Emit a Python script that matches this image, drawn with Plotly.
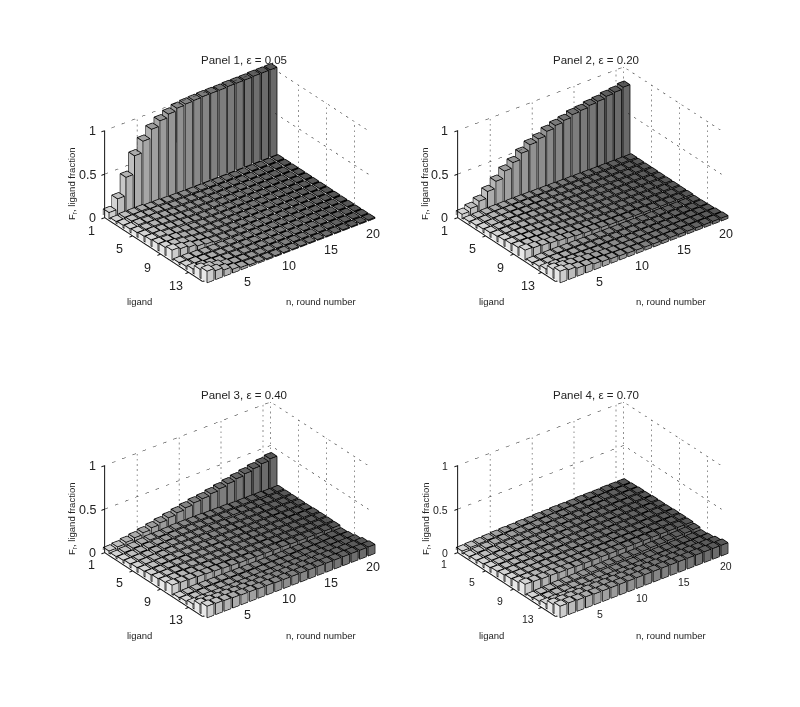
import plotly.graph_objects as go

rounds = list(range(1, 21))
ligands = list(range(1, 16))
round_tick_labels = [5, 10, 15, 20]
round_tick_pos = [4.25, 9.2, 14.15, 19.1]
ligand_ticks = [1, 5, 9, 13]
z_ticks = [0, 0.5, 1]
titles = ["Panel 1, \u03b5 = 0.05", "Panel 2, \u03b5 = 0.20", "Panel 3, \u03b5 = 0.40", "Panel 4, \u03b5 = 0.70"]

panel1 = [
 [.07,.19,.40,.61,.74,.84,.90,.94,.97,.98,.985,.99,.99,.99,.995,.995,.995,1,1,1],
 [.02,.03,.03,.03,.02,.02,.015,.012,.01,.008,.007,.006,.006,.006,.005,.005,.005,.005,.005,.005],
 [.03,.04,.04,.03,.03,.02,.014,.012,.01,.008,.007,.006,.006,.006,.005,.005,.005,.005,.005,.005],
 [.04,.05,.04,.04,.03,.02,.013,.012,.01,.008,.007,.006,.006,.005,.005,.005,.005,.005,.005,.005],
 [.05,.05,.05,.04,.03,.02,.012,.011,.01,.008,.007,.006,.006,.005,.005,.005,.005,.005,.005,.005],
 [.06,.06,.05,.04,.03,.02,.012,.01,.009,.007,.006,.006,.005,.005,.005,.005,.005,.005,.005,.005],
 [.07,.07,.05,.04,.025,.015,.012,.01,.008,.007,.006,.005,.005,.005,.005,.005,.005,.005,.005,.005],
 [.08,.07,.06,.04,.025,.015,.012,.01,.008,.007,.006,.005,.005,.005,.005,.005,.005,.005,.005,.005],
 [.09,.08,.06,.04,.025,.015,.012,.009,.007,.006,.005,.005,.005,.005,.005,.005,.005,.005,.005,.005],
 [.11,.09,.07,.045,.03,.016,.012,.009,.007,.006,.005,.005,.005,.005,.005,.005,.005,.005,.005,.005],
 [.02,.02,.015,.012,.01,.008,.007,.006,.005,.005,.005,.005,.005,.005,.005,.005,.005,.005,.005,.005],
 [.03,.03,.02,.015,.012,.009,.007,.006,.005,.005,.005,.005,.005,.005,.005,.005,.005,.005,.005,.005],
 [.05,.04,.03,.02,.014,.01,.008,.007,.006,.005,.005,.005,.005,.005,.005,.005,.005,.005,.005,.005],
 [.10,.08,.06,.035,.02,.014,.01,.008,.007,.006,.006,.006,.006,.006,.006,.006,.006,.006,.006,.006],
 [.13,.10,.07,.04,.025,.016,.012,.01,.008,.007,.007,.007,.007,.007,.007,.007,.007,.007,.007,.008],
]
panel2 = [
 [.05,.08,.125,.20,.28,.36,.42,.49,.55,.58,.63,.66,.68,.71,.72,.74,.75,.77,.78,.80],
 [.02,.025,.03,.03,.03,.03,.03,.028,.026,.025,.024,.022,.021,.02,.019,.018,.018,.017,.017,.016],
 [.03,.035,.04,.04,.04,.035,.035,.03,.03,.027,.025,.023,.022,.02,.019,.018,.017,.017,.016,.016],
 [.04,.045,.05,.05,.045,.04,.04,.035,.03,.028,.025,.023,.021,.02,.019,.018,.017,.016,.016,.015],
 [.05,.055,.055,.055,.05,.045,.04,.035,.03,.028,.025,.023,.021,.02,.018,.017,.016,.016,.015,.015],
 [.06,.06,.06,.055,.05,.045,.04,.035,.03,.027,.024,.022,.02,.019,.018,.017,.016,.015,.015,.014],
 [.07,.07,.065,.06,.05,.045,.04,.035,.03,.027,.024,.021,.02,.018,.017,.016,.015,.015,.014,.014],
 [.08,.08,.07,.06,.055,.045,.04,.035,.03,.026,.023,.021,.019,.018,.017,.016,.015,.014,.014,.014],
 [.09,.085,.075,.065,.055,.05,.04,.035,.03,.026,.023,.021,.019,.018,.016,.015,.015,.014,.014,.013],
 [.11,.10,.09,.08,.07,.06,.05,.045,.04,.035,.03,.027,.024,.022,.02,.018,.017,.016,.015,.015],
 [.02,.02,.02,.02,.018,.016,.015,.013,.012,.011,.01,.01,.01,.01,.01,.01,.01,.01,.01,.01],
 [.03,.03,.03,.025,.022,.02,.017,.015,.014,.013,.012,.012,.012,.012,.012,.012,.012,.012,.012,.012],
 [.05,.05,.04,.035,.03,.026,.022,.02,.018,.017,.016,.016,.016,.016,.016,.016,.016,.016,.016,.016],
 [.10,.09,.08,.07,.06,.05,.04,.035,.03,.028,.026,.025,.024,.024,.024,.024,.024,.024,.024,.024],
 [.13,.11,.09,.08,.065,.055,.05,.045,.04,.036,.034,.033,.032,.032,.03,.03,.03,.03,.03,.03],
]
panel3 = [
 [.03,.04,.055,.07,.09,.11,.13,.15,.17,.19,.21,.22,.24,.26,.28,.30,.32,.34,.36,.38],
 [.02,.03,.04,.05,.06,.06,.065,.07,.07,.07,.07,.065,.065,.065,.06,.06,.06,.06,.055,.055],
 [.03,.035,.045,.055,.06,.065,.07,.07,.07,.07,.07,.065,.065,.065,.06,.06,.06,.055,.055,.055],
 [.04,.045,.05,.06,.065,.07,.07,.07,.07,.07,.065,.065,.06,.06,.06,.06,.055,.055,.055,.055],
 [.05,.055,.06,.065,.07,.07,.07,.07,.07,.065,.065,.065,.06,.06,.06,.06,.055,.055,.055,.055],
 [.06,.065,.07,.07,.07,.07,.07,.07,.065,.065,.065,.065,.06,.06,.06,.06,.06,.055,.055,.055],
 [.07,.07,.075,.075,.075,.07,.07,.07,.07,.065,.065,.065,.06,.06,.06,.06,.06,.06,.06,.06],
 [.08,.08,.08,.075,.075,.07,.07,.07,.07,.065,.065,.065,.06,.06,.06,.06,.06,.06,.06,.06],
 [.09,.09,.085,.08,.075,.075,.07,.07,.07,.065,.065,.065,.065,.06,.06,.06,.06,.06,.06,.06],
 [.11,.105,.10,.095,.09,.085,.08,.075,.07,.07,.065,.065,.065,.065,.06,.06,.06,.06,.06,.06],
 [.02,.025,.03,.03,.03,.03,.03,.03,.03,.03,.03,.03,.03,.035,.035,.035,.035,.04,.04,.04],
 [.03,.03,.035,.035,.035,.035,.035,.035,.035,.04,.04,.04,.04,.04,.045,.045,.045,.05,.05,.05],
 [.05,.05,.05,.05,.05,.05,.05,.05,.05,.05,.055,.055,.055,.055,.06,.06,.06,.06,.065,.065],
 [.10,.095,.09,.09,.085,.085,.08,.08,.08,.08,.08,.08,.08,.08,.085,.085,.085,.085,.085,.085],
 [.13,.125,.12,.115,.11,.11,.105,.105,.10,.10,.10,.10,.10,.10,.10,.10,.10,.10,.10,.10],
]
panel4 = [
 [.03,.035,.04,.045,.05,.055,.055,.06,.06,.065,.065,.07,.07,.07,.075,.075,.075,.08,.08,.08],
 [.02,.03,.04,.05,.055,.06,.065,.065,.07,.07,.075,.075,.08,.08,.08,.08,.085,.085,.085,.085],
 [.03,.035,.045,.05,.055,.06,.065,.07,.07,.075,.075,.08,.08,.08,.085,.085,.085,.085,.09,.09],
 [.04,.045,.05,.055,.06,.065,.065,.07,.075,.075,.08,.08,.08,.085,.085,.085,.09,.09,.09,.09],
 [.05,.055,.06,.06,.065,.07,.07,.075,.075,.08,.08,.08,.085,.085,.085,.09,.09,.09,.09,.095],
 [.06,.06,.065,.065,.07,.07,.075,.075,.08,.08,.08,.085,.085,.085,.09,.09,.09,.09,.095,.095],
 [.07,.07,.07,.07,.075,.075,.075,.08,.08,.08,.085,.085,.085,.09,.09,.09,.09,.095,.095,.095],
 [.08,.08,.08,.08,.08,.08,.08,.08,.085,.085,.085,.085,.09,.09,.09,.09,.095,.095,.095,.10],
 [.09,.09,.09,.09,.09,.09,.09,.09,.09,.09,.09,.09,.095,.095,.095,.095,.095,.10,.10,.10],
 [.12,.115,.11,.11,.105,.105,.10,.10,.10,.10,.10,.10,.10,.10,.10,.10,.10,.10,.10,.10],
 [.02,.025,.03,.035,.04,.04,.045,.05,.05,.055,.055,.06,.06,.065,.07,.07,.075,.08,.085,.09],
 [.03,.03,.035,.035,.04,.04,.04,.045,.045,.05,.05,.05,.055,.055,.06,.06,.065,.065,.07,.07],
 [.05,.05,.05,.055,.055,.055,.06,.06,.06,.065,.065,.065,.07,.07,.07,.075,.075,.075,.08,.08],
 [.10,.10,.10,.10,.10,.10,.10,.10,.10,.10,.10,.10,.10,.10,.10,.10,.10,.10,.10,.10],
 [.13,.13,.125,.125,.12,.12,.12,.12,.12,.12,.12,.12,.12,.12,.12,.12,.12,.12,.12,.12],
]
panels = [panel1, panel2, panel3, panel4]

W, H = 800, 707
BAR = 0.4
XMIN, XMAX = 0.41, 20.0
YMIN, YMAX = 1.0, 15.0
# geometry of the four scenes (scene centre and tick font, pixels)
centres = [(229.0, 165.4), (581.7, 165.4), (229.0, 500.4), (581.7, 500.4)]
tick_font = [12.5, 12.5, 12.5, 10.5]
lig_yshift = [-13, -13, -12, -11]
n_yshift = [-13, -13, -11, -10]
SIDE = 320
EYE_D = 3.0
eye_dir = (-0.527, -0.687, 0.5)
PX = 160.0


def gray(v):
    v = int(round(max(0, min(255, v))))
    return f"rgb({v},{v},{v})"


def bars_mesh(matrix):
    xs, ys, zs, i, j, k, fc = [], [], [], [], [], [], []
    ex, ey, ez = [], [], []
    for r, row in enumerate(matrix):
        lig = ligands[r]
        for c, val in enumerate(row):
            n = rounds[c]
            t = (c / 19) ** 0.6
            top = gray(212 - 125 * t)
            left = gray(232 - 125 * t)
            right = gray(205 - 100 * t)
            x0, x1, y0, y1 = n - BAR, n + BAR, lig - BAR, lig + BAR
            b = len(xs)
            xs += [x0, x1, x1, x0, x0, x1, x1, x0]
            ys += [y0, y0, y1, y1, y0, y0, y1, y1]
            zs += [0, 0, 0, 0, val, val, val, val]
            quads = [((4, 5, 6), (4, 6, 7), top),
                     ((0, 3, 7), (0, 7, 4), left),
                     ((3, 2, 6), (3, 6, 7), right),
                     ((1, 2, 6), (1, 6, 5), right),
                     ((0, 1, 5), (0, 5, 4), left)]
            for t1, t2, col in quads:
                for tri in (t1, t2):
                    i.append(b + tri[0]); j.append(b + tri[1]); k.append(b + tri[2])
                    fc.append(col)
            e = 0.012
            X0, X1, Y0, Y1 = x0 - e, x1 + e, y0 - e, y1 + e
            Z = val + 0.003
            for p, q in [((X0, Y1, Z), (X1, Y1, Z)), ((X1, Y1, Z), (X1, Y0, Z)),
                         ((X1, Y0, Z), (X0, Y0, Z)), ((X0, Y0, Z), (X0, Y1, Z)),
                         ((X0, Y1, 0), (X0, Y1, Z)), ((X1, Y1, 0), (X1, Y1, Z)),
                         ((X0, Y0, 0), (X0, Y0, Z)),
                         ((X0, Y1, 0), (X1, Y1, 0))]:
                ex += [p[0], q[0], None]
                ey += [p[1], q[1], None]
                ez += [p[2], q[2], None]
    mesh = go.Mesh3d(x=xs, y=ys, z=zs, i=i, j=j, k=k, facecolor=fc, flatshading=True,
                     lighting=dict(ambient=1, diffuse=0, specular=0, fresnel=0, roughness=1),
                     hoverinfo="skip", showscale=False)
    edges = go.Scatter3d(x=ex, y=ey, z=ez, mode="lines", line=dict(color="#000000", width=1.6),
                         hoverinfo="skip", showlegend=False)
    return mesh, edges


def walls():
    gx, gy, gz = [], [], []
    def seg(p, q):
        gx.extend([p[0], q[0], None]); gy.extend([p[1], q[1], None]); gz.extend([p[2], q[2], None])
    for z in z_ticks[1:]:
        seg((XMIN, YMIN, z), (XMAX, YMIN, z))
        seg((XMAX, YMIN, z), (XMAX, YMAX, z))
    for x in round_tick_pos + [XMAX]:
        seg((x, YMIN, 0), (x, YMIN, 1))
    for y in ligand_ticks[1:]:
        seg((XMAX, y, 0), (XMAX, y, 1))
    return go.Scatter3d(x=gx, y=gy, z=gz, mode="lines", line=dict(color="#222222", width=1, dash="dot"),
                        hoverinfo="skip", showlegend=False)


def axes_lines():
    ax, ay, az = [], [], []
    def seg(p, q):
        ax.extend([p[0], q[0], None]); ay.extend([p[1], q[1], None]); az.extend([p[2], q[2], None])
    seg((XMIN, YMIN, 0), (XMIN, YMIN, 1))
    seg((XMIN, YMIN, 0), (XMIN, YMAX, 0))
    seg((XMIN, YMAX, 0), (XMAX, YMAX, 0))
    for z in z_ticks:
        seg((XMIN, YMIN, z), (XMIN - 0.38, YMIN, z))
    for y in ligand_ticks:
        seg((XMIN, y, 0), (XMIN - 0.38, y, 0))
    for x in round_tick_pos:
        seg((x, YMAX, 0), (x, YMAX + 0.38, 0))
    return go.Scatter3d(x=ax, y=ay, z=az, mode="lines", line=dict(color="#111111", width=2),
                        hoverinfo="skip", showlegend=False)


fig = go.Figure()
layout = dict(width=W, height=H, margin=dict(l=0, r=0, t=0, b=0), paper_bgcolor="white",
              showlegend=False, font=dict(family="Liberation Sans", color="#222222"))
annotations = []
hidden = dict(visible=False, showgrid=False, showline=False, showticklabels=False,
              showbackground=False, zeroline=False, ticks="", title="")
for p, matrix in enumerate(panels):
    name = "scene" if p == 0 else f"scene{p+1}"
    mesh, edges = bars_mesh(matrix)
    for tr in (mesh, edges, walls(), axes_lines()):
        tr.scene = name
        fig.add_trace(tr)
    cx, cy = centres[p]
    fs = tick_font[p]
    ann = []
    for z in z_ticks:
        ann.append(dict(x=XMIN, y=YMIN, z=z, text=str(z), showarrow=False, xanchor="right",
                        xshift=-7, font=dict(size=fs, color="#222222")))
    for y in ligand_ticks:
        ann.append(dict(x=XMIN, y=y, z=0, text=str(y), showarrow=False, xshift=-13, yshift=lig_yshift[p],
                        font=dict(size=fs, color="#222222")))
    for x, lab in zip(round_tick_pos, round_tick_labels):
        ann.append(dict(x=x, y=YMAX, z=0, text=str(lab), showarrow=False, xshift=12, yshift=n_yshift[p],
                        font=dict(size=fs, color="#222222")))
    layout[name] = dict(
        domain=dict(x=[(cx - SIDE / 2) / W, (cx + SIDE / 2) / W],
                    y=[1 - (cy + SIDE / 2) / H, 1 - (cy - SIDE / 2) / H]),
        xaxis=dict(range=[0, 20.5], **hidden),
        yaxis=dict(range=[15.5, 0.5], **hidden),
        zaxis=dict(range=[0, 1.025], **hidden),
        aspectmode="manual", aspectratio=dict(x=218.9 / PX, y=172.5 / PX, z=103.0 / PX),
        camera=dict(projection=dict(type="orthographic"),
                    center=dict(x=0, y=0, z=0), up=dict(x=0, y=0, z=1),
                    eye=dict(x=eye_dir[0] * EYE_D, y=eye_dir[1] * EYE_D, z=eye_dir[2] * EYE_D)),
        annotations=ann,
    )
    tx = [236, 588, 236, 588][p]
    ty = [52, 52, 387, 387][p]
    def note(x, y, text, size, **kw):
        annotations.append(dict(x=x / W, y=1 - y / H, xref="paper", yref="paper", text=text, showarrow=False,
                                xanchor="center", yanchor="middle", font=dict(size=size, color="#222222"), **kw))
    note(tx, ty, titles[p], 11.5)
    ly = [293, 293, 627, 627][p]
    note([131, 483, 131, 483][p], ly, "ligand", 9.5)
    note([313, 663, 313, 663][p], ly, "n, round number", 9.5)
    note([64, 417, 64, 418][p], [176, 176, 511, 511][p], "F<sub>r</sub>, ligand fraction", 9.5, textangle=-90)
layout["annotations"] = annotations
fig.update_layout(**layout)
fig.write_html("out.html")
